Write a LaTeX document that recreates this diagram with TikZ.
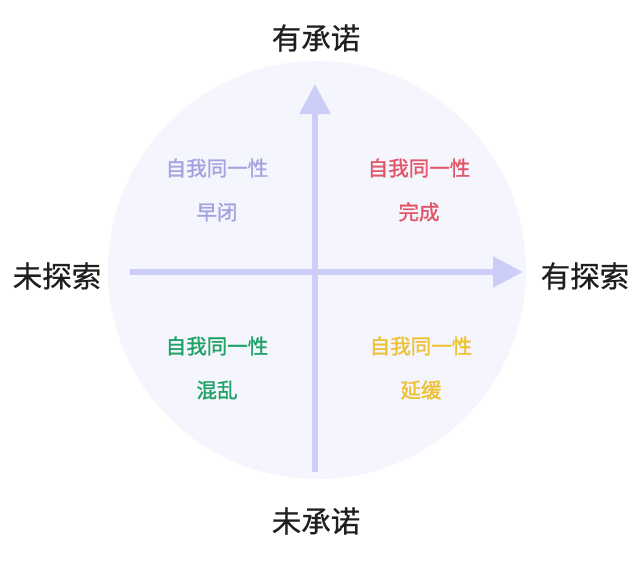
\documentclass[tikz,border=0pt]{standalone}
\usepackage{fontspec}
\setmainfont{Noto Sans CJK SC}
\newfontfamily\heavyfont{Noto Sans CJK SC}[FakeBold=1.3]
\newfontfamily\midfont{Noto Sans CJK SC}[FakeBold=0.6]
\usepackage{tikz}
\usetikzlibrary{arrows.meta}
\definecolor{disc}{HTML}{F4F5FD}
\definecolor{axis}{HTML}{CDCEF8}
\definecolor{lav}{HTML}{A3A3DF}
\definecolor{rose}{HTML}{E2566A}
\definecolor{leaf}{HTML}{1FA266}
\definecolor{gold}{HTML}{EDC132}
\begin{document}
\begin{tikzpicture}[
  x=1pt, y=-1pt,
  pole/.style={font=\midfont\fontsize{29.5}{32}\selectfont, text=black!88},
  quad/.style={align=center, font=\heavyfont\fontsize{20.5}{44}\selectfont},
  axisline/.style={draw=axis, line width=6pt, -{Triangle[width=30pt,length=30pt]}}
]
\useasboundingbox[fill=white] (0,0) rectangle (641,563);
\fill[disc] (317,270) circle (209);
\coordinate (top) at (315,84);
\coordinate (bottom) at (315,472);
\coordinate (left) at (130,272);
\coordinate (right) at (523,272);
\draw[axisline] (bottom) -- (top);
\draw[axisline] (left) -- (right);
\node[pole] (commit) at (316,38) {有承诺};
\node[pole] (nocommit) at (316,521) {未承诺};
\node[pole] (noexplore) at (57,276) {未探索};
\node[pole] (explore) at (585,276) {有探索};
\node[quad, text=lav] (foreclosure) at (217,190) {自我同一性\\早闭};
\node[quad, text=rose] (achievement) at (419,190) {自我同一性\\完成};
\node[quad, text=leaf] (diffusion) at (217,368) {自我同一性\\混乱};
\node[quad, text=gold] (moratorium) at (421,368) {自我同一性\\延缓};
\end{tikzpicture}
\end{document}
